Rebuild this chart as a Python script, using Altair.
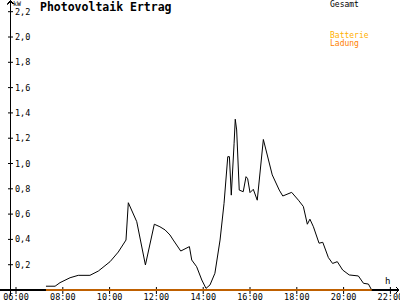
import altair as alt
import pandas as pd

# --- data ---
hours = [7.28, 7.67, 7.88, 8.31, 8.66, 9.16, 9.52, 10.02, 10.37, 10.70, 10.80,
         11.16, 11.53, 11.91, 12.15, 12.37, 12.58, 12.72, 13.04, 13.41, 13.51,
         13.72, 13.94, 14.12, 14.29, 14.50, 14.72, 14.89, 15.05, 15.12, 15.20,
         15.32, 15.37, 15.43, 15.54, 15.71, 15.83, 15.90, 16.00, 16.14, 16.31,
         16.57, 16.95, 17.25, 17.40, 17.78, 18.07, 18.28, 18.45, 18.56, 18.71,
         18.95, 19.11, 19.35, 19.53, 19.73, 19.96, 20.24, 20.63, 20.85, 21.06, 21.20]
gesamt_kw = [0.03, 0.03, 0.058, 0.097, 0.116, 0.116, 0.15, 0.224, 0.30, 0.395, 0.69,
             0.54, 0.198, 0.52, 0.50, 0.475, 0.435, 0.395, 0.308, 0.343, 0.237,
             0.184, 0.079, 0.013, 0.04, 0.132, 0.395, 0.685, 1.054, 1.054, 0.75,
             1.16, 1.35, 1.265, 0.79, 0.777, 0.896, 0.88, 0.77, 0.796, 0.71,
             1.19, 0.91, 0.79, 0.743, 0.772, 0.71, 0.66, 0.52, 0.56, 0.50,
             0.37, 0.377, 0.256, 0.21, 0.224, 0.158, 0.119, 0.111, 0.053, 0.047, 0.0]
ladung_hours = [7.28, 21.20]
ladung_kw = [0.0, 0.0]

y_ticks = [0.2, 0.4, 0.6, 0.8, 1.0, 1.2, 1.4, 1.6, 1.8, 2.0, 2.2]
y_tick_labels = ["0,2", "0,4", "0,6", "0,8", "1,0", "1,2", "1,4", "1,6", "1,8", "2,0", "2,2"]
x_ticks = [6, 8, 10, 12, 14, 16, 18, 20, 22]
x_tick_labels = ["06:00", "08:00", "10:00", "12:00", "14:00", "16:00", "18:00", "20:00", "22:00"]

title_text = "Photovoltaik Ertrag"
legend_labels = ["Gesamt", "Batterie", "Ladung"]
unit_y = "kW"
unit_x = "h"

FONT = "DejaVu Sans Mono"

xs = alt.Scale(domain=[5.316, 22.41], nice=False, zero=False)
ys = alt.Scale(domain=[-0.079, 2.2925], nice=False, zero=False)

gesamt = pd.DataFrame({"h": hours, "kw": gesamt_kw})
ladung = pd.DataFrame({"h": ladung_hours, "kw": ladung_kw})
yt = pd.DataFrame({"v": y_ticks, "lab": y_tick_labels})
xt = pd.DataFrame({"h": x_ticks, "lab": x_tick_labels})

X = lambda f: alt.X(f, type="quantitative", scale=xs, axis=None)
Y = lambda f: alt.Y(f, type="quantitative", scale=ys, axis=None)

base = alt.Chart(gesamt)

x_axis = alt.Chart(yt).mark_rule(color="black", strokeWidth=1).encode(
    x=alt.value(0), x2=alt.value(399), y=alt.Y(datum=0, type="quantitative", scale=ys, axis=None))
y_axis = alt.Chart(yt).mark_rule(color="black", strokeWidth=1).encode(
    x=alt.value(10.5), y=alt.value(1), y2=alt.value(296))

y_tick_marks = alt.Chart(yt).mark_rule(color="black").encode(
    x=alt.value(8), x2=alt.value(13), y=Y("v"))
y_tick_text = alt.Chart(yt).mark_text(align="left", baseline="middle", font=FONT,
                                      fontSize=8.5, color="black").encode(
    x=alt.value(15), y=Y("v"), text="lab:N")

x_tick_marks = alt.Chart(xt).mark_rule(color="black").encode(
    x=X("h"), y=alt.value(287), y2=alt.value(294))
x_tick_text = alt.Chart(xt).mark_text(align="center", baseline="middle", font=FONT,
                                      fontSize=8.5, color="black").encode(
    x=X("h"), y=alt.value(296.5), text="lab:N")

line_gesamt = base.mark_line(color="black", strokeWidth=1, interpolate="linear").encode(
    x=X("h"), y=Y("kw"))
line_ladung = alt.Chart(ladung).mark_line(color="#FF8000", strokeWidth=1.3).encode(
    x=X("h"), y=Y("kw"))

def label(txt, x, y, size, color="black", weight="normal"):
    return alt.Chart(pd.DataFrame({"t": [txt]})).mark_text(
        align="left", baseline="middle", font=FONT, fontSize=size,
        color=color, fontWeight=weight).encode(x=alt.value(x), y=alt.value(y), text="t:N")

title = label(title_text, 40, 7.5, 11.5, weight="bold")
leg1 = label(legend_labels[0], 330, 4.5, 8, "black")
leg2 = label(legend_labels[1], 330, 36, 8, "#FFB000")
leg3 = label(legend_labels[2], 330, 44, 8, "#FF8000")
kw_lab = label(unit_y, 13, 3.5, 6.5)
h_lab = label(unit_x, 385, 281, 9)

arrow_up = alt.Chart(yt).mark_point(shape="M-1,1L0,0L1,1", filled=False, color="black",
                                     size=30, strokeWidth=1, opacity=1).encode(
    x=alt.value(10.5), y=alt.value(1))
arrow_right = alt.Chart(yt).mark_point(shape="M-1,-1L0,0L-1,1", filled=False, color="black",
                                        size=30, strokeWidth=1, opacity=1).encode(
    x=alt.value(399), y=alt.value(290))

chart = alt.layer(
    x_axis, y_axis, y_tick_marks, y_tick_text, x_tick_marks, x_tick_text,
    line_gesamt, line_ladung, title, leg1, leg2, leg3, kw_lab, h_lab,
    arrow_up, arrow_right
).properties(
    width=400, height=300, padding=0,
    autosize=alt.AutoSizeParams(type="none"),
    background="white"
).configure_view(stroke=None)

chart.save("out.html", embed_options={"renderer": "svg", "actions": False})
